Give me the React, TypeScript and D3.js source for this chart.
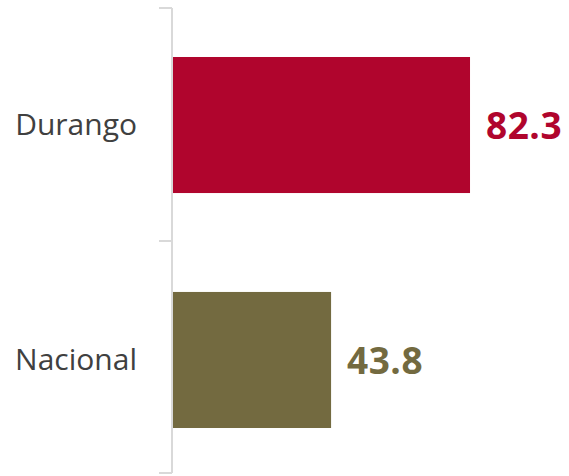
import React from "react";
import * as d3 from "d3";

const categories = ["Durango", "Nacional"];
const values = [82.3, 43.8];
const colors = ["#b0052d", "#736a40"];

export default function App() {
  const W = 569, H = 476;
  const x = d3.scaleLinear().domain([0, 100]).range([173, 173 + 360.9]);
  const y = d3.scaleBand<string>().domain(categories).range([12, 473]).paddingInner(0.421).paddingOuter(0.1915);
  const top = 8, bottom = 473;
  const tickYs = [top, 241, bottom];
  return (
    <svg width={W} height={H} style={{ position: "absolute", left: 0, top: 0, background: "#fff" }}>
      {categories.map((c, i) => (
        <g key={c}>
          <rect x={x(0)} y={y(c)} width={x(values[i]) - x(0)} height={y.bandwidth()} fill={colors[i]} />
          <text x={x(values[i]) + 16} y={y(c)! + y.bandwidth() / 2} dy="0.38em" fill={colors[i]}
            fontFamily="Open Sans" fontWeight="bold" fontSize={37} letterSpacing={0.5}>{values[i].toFixed(1)}</text>
          <text x={137} y={y(c)! + y.bandwidth() / 2} dy="0.32em" textAnchor="end" fill="#404040"
            fontFamily="Open Sans" fontSize={30}>{c}</text>
        </g>
      ))}
      <line x1={172} x2={172} y1={top} y2={bottom} stroke="#d9d9d9" strokeWidth={2} />
      {tickYs.map((t, i) => (
        <line key={i} x1={159} x2={172} y1={t} y2={t} stroke="#d9d9d9" strokeWidth={2} />
      ))}
    </svg>
  );
}
